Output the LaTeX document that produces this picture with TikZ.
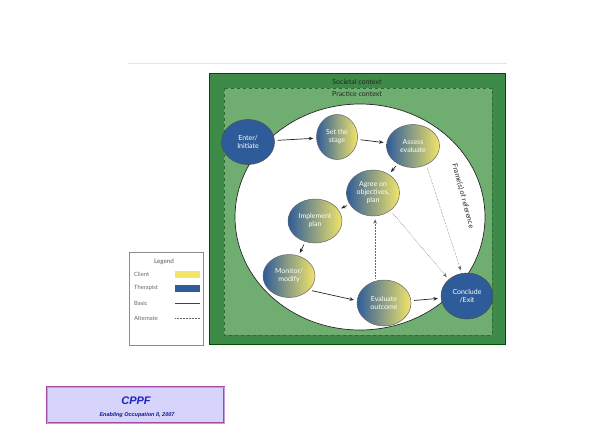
\documentclass[tikz,border=0pt]{standalone}
\usepackage{fontspec}
\setsansfont{Lato}
\newfontfamily\arialfont{Liberation Sans}
\usetikzlibrary{shapes.geometric,arrows.meta,calc}
\definecolor{outergreen}{HTML}{3E8A49}
\definecolor{innergreen}{HTML}{6FAE70}
\definecolor{dashgreen}{HTML}{2C6A34}
\definecolor{therablue}{HTML}{2E5C9A}
\definecolor{clientyel}{HTML}{F2E56A}
\definecolor{cppfbg}{HTML}{D6D4FA}
\definecolor{cppfborder}{HTML}{A24AA8}
\definecolor{cppftext}{HTML}{1A22C8}
\begin{document}
\begin{tikzpicture}[x=1pt,y=-1pt,
  font=\sffamily,
  blnode/.style={ellipse,draw=black!70,line width=0.5pt,fill=therablue,text=white,
    align=center,font=\sffamily\fontsize{7}{8}\selectfont,inner sep=0pt},
  grnode/.style={ellipse,draw=black!60,line width=0.5pt,left color=therablue,right color=clientyel,
    text=white,align=center,font=\sffamily\fontsize{7}{8}\selectfont,inner sep=0pt},
  basic/.style={-{Stealth[length=4.5pt,width=3.5pt]},line width=0.7pt,black!85,shorten >=3pt,shorten <=3pt},
  alt/.style={-{Stealth[length=4.5pt,width=3.5pt]},line width=0.5pt,black!60,densely dotted,shorten >=3pt,shorten <=3pt},
  legtext/.style={font=\sffamily\fontsize{5.8}{6}\selectfont,text=black!60,anchor=west,inner sep=0pt}
]
\useasboundingbox (0,0) rectangle (600,444);
\fill[white] (0,0) rectangle (600,444);

% top rule
\draw[black!10,line width=0.8pt] (128,63) -- (507,63);

% contexts
\draw[fill=outergreen,draw=black!70!green,line width=0.8pt] (209,73) rectangle (505,344);
\draw[fill=innergreen,draw=dashgreen,dashed,line width=0.8pt] (224,88) rectangle (492,335);
\node[font=\sffamily\fontsize{7}{8}\selectfont,text=black!85] (soc) at (357,82) {Societal context};
\node[font=\sffamily\fontsize{7}{8}\selectfont,text=black!85] (prac) at (357,94) {Practice context};

% big circle
\draw[fill=white,draw=black!85,line width=0.7pt] (360,217) ellipse [x radius=125, y radius=113];

\node[rotate=-75,font=\sffamily\fontsize{7.2}{8}\selectfont,text=black!85] (frame) at (463,196) {Frame(s) of reference};

% nodes
\node[blnode,minimum width=53pt,minimum height=45pt] (enter) at (248,142) {Enter/\\Initiate};
\node[grnode,minimum width=41pt,minimum height=45pt] (set) at (337,137) {Set the\\stage};
\node[grnode,minimum width=53pt,minimum height=43pt] (assess) at (413,146) {Assess\\evaluate};
\node[grnode,minimum width=53pt,minimum height=46pt] (agree) at (373,193) {Agree on\\objectives,\\plan};
\node[grnode,minimum width=54pt,minimum height=44pt] (impl) at (315,221) {Implement\\plan};
\node[grnode,minimum width=52pt,minimum height=43pt] (mon) at (289,276) {Monitor/\\modify};
\node[grnode,minimum width=54pt,minimum height=46pt] (eval) at (384,303) {Evaluate\\outcome};
\node[blnode,minimum width=52pt,minimum height=46pt] (concl) at (467,296) {Conclude\\/Exit};

% basic arrows
\draw[basic] (enter) -- (set);
\draw[basic] (set) -- (assess);
\draw[basic] (assess) -- (agree);
\draw[basic] (agree) -- (impl);
\draw[basic] (impl) -- (mon);
\draw[basic] (mon.-35) -- (eval.175);
\draw[basic] (eval) -- (concl);

% alternate arrows
\draw[alt] (eval.112) -- (eval.112 |- agree.south);
\draw[alt] (agree.-45) -- (concl.138);
\draw[alt] (assess.-55) -- (concl.103);

% legend
\draw[fill=white,draw=black!45,line width=0.5pt] (129,252) rectangle (203,345);
\node[font=\sffamily\fontsize{6.3}{7}\selectfont,text=black!65] (legtitle) at (164,262) {Legend};
\node[legtext] (lclient) at (134,274) {Client};
\node[legtext] (lthera) at (134,288) {Therapist};
\node[legtext] (lbasic) at (134,303) {Basic};
\node[legtext] (lalt) at (134,318) {Alternate};
\fill[clientyel] (175,270.5) rectangle (200,277.5);
\fill[therablue] (175,284.5) rectangle (200,291.5);
\draw[black!75,line width=0.6pt] (175,303) -- (200,303);
\draw[black!60,line width=0.5pt,densely dotted] (175,318) -- (200,318);

% CPPF box
\draw[fill=cppfbg,draw=cppfborder,line width=0.6pt,double=cppfbg!60!cppfborder,double distance=1pt] (47,387) rectangle (224,423);
\node[font=\arialfont\bfseries\itshape\fontsize{11}{12}\selectfont,text=cppftext] (cppf) at (136,401) {CPPF};
\node[font=\arialfont\bfseries\itshape\fontsize{5.5}{6}\selectfont,text=cppftext!70!black] (cppfsub) at (137,415.5) {Enabling Occupation II, 2007};
\end{tikzpicture}
\end{document}
